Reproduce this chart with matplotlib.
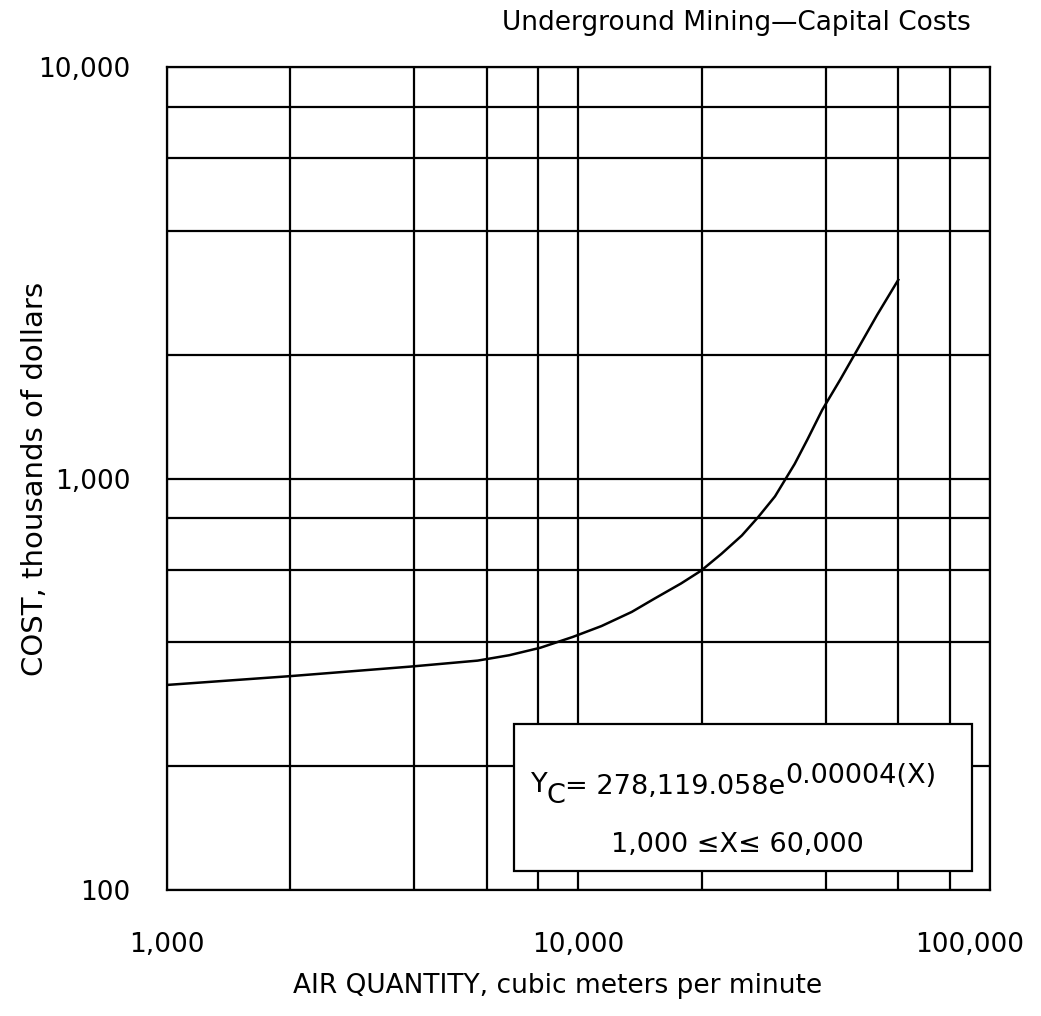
import matplotlib
matplotlib.use("Agg")
import matplotlib.pyplot as plt
from matplotlib.patches import Rectangle
from matplotlib.ticker import FixedLocator, FixedFormatter, NullFormatter
from matplotlib.transforms import ScaledTranslation

# Air quantity (m^3/min) and capital cost (thousands of dollars) along the curve
air_qty = [1000, 2000, 3900, 5700, 6800, 8100, 9700, 11400, 13500, 15300,
           17800, 19900, 22300, 25000, 27400, 30100, 33600, 36100, 39200,
           43400, 47600, 53300, 60000]
cost = [315, 331, 349, 361, 372, 388, 412, 438, 474, 510,
        556, 597, 656, 727, 806, 905, 1085, 1245, 1468,
        1742, 2048, 2498, 3040]

x_major = [1000, 10000, 100000]
x_major_labels = ["1,000", "10,000", "100,000"]
x_minor = [2000, 4000, 6000, 8000, 20000, 40000, 60000, 80000]

y_major = [100, 1000, 10000]
y_major_labels = ["100", "1,000", "10,000"]
y_minor = [200, 400, 600, 800, 2000, 4000, 6000, 8000]

title = "Underground Mining\u2014Capital Costs"
x_label = "AIR QUANTITY, cubic meters per minute"
y_label = "COST, thousands of dollars"
range_text = "1,000 \u2264X\u2264 60,000"

plt.rcParams["font.family"] = ["DejaVu Sans"]
LW = 1.6

fig = plt.figure(figsize=(10.41, 10.16), dpi=100)
ax = fig.add_axes([0.16, 0.124, 0.7906, 0.810])
ax.set_xscale("log")
ax.set_yscale("log")
ax.set_xlim(1000, 100000)
ax.set_ylim(100, 10000)

ax.xaxis.set_major_locator(FixedLocator(x_major))
ax.xaxis.set_major_formatter(FixedFormatter(x_major_labels))
ax.xaxis.set_minor_locator(FixedLocator(x_minor))
ax.xaxis.set_minor_formatter(NullFormatter())
ax.yaxis.set_major_locator(FixedLocator(y_major))
ax.yaxis.set_major_formatter(FixedFormatter(y_major_labels))
ax.yaxis.set_minor_locator(FixedLocator(y_minor))
ax.yaxis.set_minor_formatter(NullFormatter())

ax.tick_params(axis="both", which="both", length=0, labelsize=19)
ax.tick_params(axis="x", which="major", pad=30)
ax.tick_params(axis="y", which="major", pad=26)
ax.grid(True, which="both", color="black", linewidth=LW)
ax.set_axisbelow(True)
for sp in ax.spines.values():
    sp.set_linewidth(LW)
    sp.set_color("black")

# Keep the last x tick label inside the figure
fig.canvas.draw()
last_lbl = ax.get_xticklabels()[-1]
last_lbl.set_transform(last_lbl.get_transform()
                       + ScaledTranslation(-20 / 100, 0, fig.dpi_scale_trans))

ax.plot(air_qty, cost, color="black", linewidth=1.8, zorder=2,
        solid_joinstyle="round")

# Axis titles and chart title
ax.text(0.4745, -0.117, x_label, transform=ax.transAxes, ha="center",
        va="center", fontsize=19)
ax.text(-0.16, 0.5, y_label, transform=ax.transAxes, ha="center",
        va="center", rotation=90, fontsize=21)
ax.text(0.9775, 1.054, title, transform=ax.transAxes, ha="right",
        va="center", fontsize=19)

# Equation box
bx0, bx1, by0, by1 = 0.422, 0.979, 0.0237, 0.2023
ax.add_patch(Rectangle((bx0, by0), bx1 - bx0, by1 - by0, transform=ax.transAxes,
                       facecolor="white", edgecolor="black", linewidth=LW,
                       zorder=3))
fs = 19.5
t_y = ax.text(0.443, 0.1197, "Y", transform=ax.transAxes, ha="left",
              va="baseline", fontsize=fs, zorder=4)
t_c = ax.annotate("C", xy=(1.0, 0.0), xycoords=t_y, xytext=(-1, -8),
                  textcoords="offset points", ha="left", va="bottom",
                  fontsize=fs, zorder=4)
t_eq = ax.annotate("= 278,119.058e", xy=(1.0, 0.0), xycoords=t_c,
                   xytext=(0, 6), textcoords="offset points", ha="left",
                   va="bottom", fontsize=fs, zorder=4)
ax.annotate("0.00004(X)", xy=(1.0, 0.0), xycoords=t_eq, xytext=(0, 8),
            textcoords="offset points", ha="left", va="bottom",
            fontsize=fs, zorder=4)
ax.text(0.693, 0.0468, range_text, transform=ax.transAxes, ha="center",
        va="baseline", fontsize=fs, zorder=4)

fig.savefig("out.png", dpi=100, facecolor="white")
